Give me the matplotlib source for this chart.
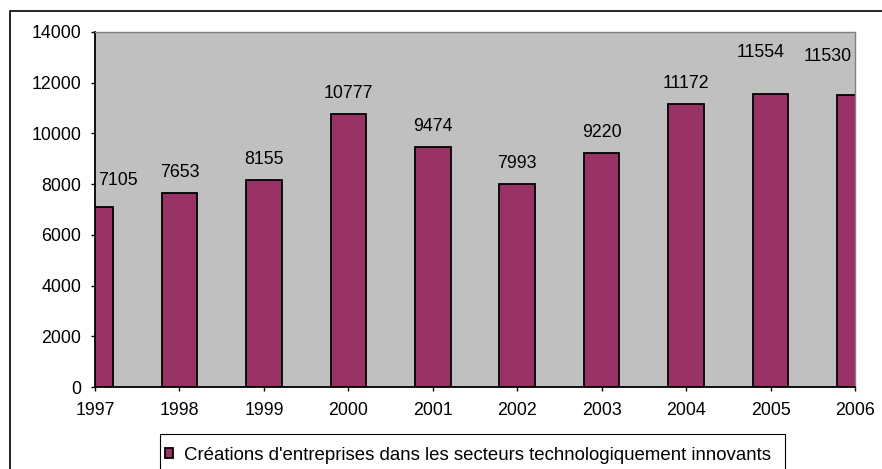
import matplotlib.pyplot as plt
from matplotlib.patches import Rectangle

annees = [1997, 1998, 1999, 2000, 2001, 2002, 2003, 2004, 2005, 2006]
creations = [7105, 7653, 8155, 10777, 9474, 7993, 9220, 11172, 11554, 11530]
yticks = [0, 2000, 4000, 6000, 8000, 10000, 12000, 14000]
legende = "Créations d'entreprises dans les secteurs technologiquement innovants"

# decalage des etiquettes (points) : Excel les garde dans la zone de traçage
decal = [(16.5, 15.5), (0, 11.5), (0, 11.5), (0, 11.5), (0, 11.5),
         (0, 11.5), (0, 11.5), (0, 11.5), (-7, 26.5), (-19.5, 24.5)]

plt.rcParams['font.family'] = ['Liberation Sans', 'DejaVu Sans']
fs = 12.8

fig = plt.figure(figsize=(8.82, 4.69), dpi=100)
W, H = 882, 469
ax = fig.add_axes([95 / W, 1 - 387 / H, (855 - 95) / W, (387 - 32) / H])
ax.set_facecolor('#C0C0C0')

bars = ax.bar(annees, creations, width=0.42, color='#993366',
              edgecolor='black', linewidth=1.3, label=legende)
for x, v, d in zip(annees, creations, decal):
    ax.annotate(str(v), (x, v), xytext=d, textcoords='offset points',
                ha='center', va='baseline', fontsize=fs, annotation_clip=False)

ax.set_xlim(1997, 2006)
ax.set_ylim(0, 14000)
ax.set_xticks(annees)
ax.set_yticks(yticks)
ax.tick_params(labelsize=fs, length=3, direction='out', width=1)
ax.tick_params(axis='x', pad=8)
ax.tick_params(axis='y', pad=7)
for s in ['top', 'right']:
    ax.spines[s].set_color('#808080')
    ax.spines[s].set_linewidth(1)
for s in ['left', 'bottom']:
    ax.spines[s].set_linewidth(1.3)

leg = fig.legend(handles=[bars], loc='center left', bbox_to_anchor=(165 / W, 1 - 455 / H),
                 fontsize=13.4, frameon=False,
                 handlelength=0.45, handleheight=0.45, handletextpad=0.55,
                 borderpad=0, borderaxespad=0)

# cadre de la legende (coupe en bas comme dans l'original)
fig.patches.append(Rectangle((160 / W, -0.1), (785 - 160) / W, 0.1 + 1 - 434 / H,
                             transform=fig.transFigure, fill=False,
                             edgecolor='black', linewidth=0.8))
# cadre du graphique
fig.patches.append(Rectangle((10 / W, -0.1), 1.0, 1 - 11 / H + 0.1,
                             transform=fig.transFigure, fill=False,
                             edgecolor='black', linewidth=1.2, zorder=0))

fig.savefig('out.png', dpi=100)
